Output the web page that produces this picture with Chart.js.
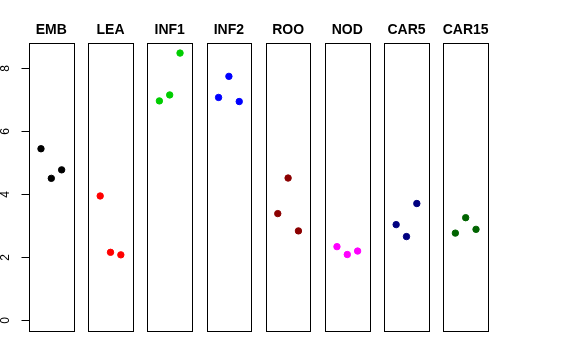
<!DOCTYPE html>
<html>
<head>
<meta charset="utf-8">
<script src="https://cdn.jsdelivr.net/npm/chart.js@4/dist/chart.umd.min.js"></script>
<style>
  html, body { margin: 0; padding: 0; background: #fff; }
  #wrap { width: 576px; height: 360px; }
</style>
</head>
<body>
<div id="wrap"><canvas id="chart" width="576" height="360"></canvas></div>
<script>
// panels and their three values (positions 1, 2, 3)
const groups = ['EMB', 'LEA', 'INF1', 'INF2', 'ROO', 'NOD', 'CAR5', 'CAR15'];
const colors = ['#000000', '#FF0000', '#00CD00', '#0000FF', '#8B0000', '#FF00FF', '#000080', '#006400'];
const values = [
    [5.45, 4.51, 4.78],
    [3.95, 2.16, 2.08],
    [6.97, 7.16, 8.49],
    [7.08, 7.75, 6.95],
    [3.39, 4.52, 2.84],
    [2.34, 2.09, 2.20],
    [3.04, 2.66, 3.71],
    [2.77, 3.26, 2.89]
];
const yTicks = [0, 2, 4, 6, 8];

// each panel has xlim 0..4 (plus 4%), panels laid side by side on one x scale
const stride = 5.73;
const half = 2.16;

const datasets = groups.map(function(g, k){
    return {
        label: g,
        data: values[k].map(function(v, i){ return {x: 2 + k*stride + (i - 1), y: v}; }),
        backgroundColor: colors[k],
        borderColor: colors[k],
        pointRadius: 3.2,
        pointHoverRadius: 3.2,
        showLine: false
    };
});

const panels = {
    id: 'panels',
    afterDatasetsDraw(chart){
        const ctx = chart.ctx;
        const xs = chart.scales.x, ys = chart.scales.y;
        const top = Math.round(ys.getPixelForValue(ys.max)) + 0.5;
        const bottom = Math.round(ys.getPixelForValue(ys.min)) + 0.5;
        ctx.save();
        ctx.strokeStyle = '#000';
        ctx.lineWidth = 1;
        groups.forEach(function(g, k){
            const c = 2 + k*stride;
            const l = Math.round(xs.getPixelForValue(c - half)) + 0.5;
            const r = Math.round(xs.getPixelForValue(c + half)) + 0.5;
            ctx.strokeRect(l, top, r - l, bottom - top);
            ctx.fillStyle = '#000';
            ctx.font = 'bold 14px "Liberation Sans", Arial, sans-serif';
            ctx.textAlign = 'center';
            ctx.textBaseline = 'alphabetic';
            ctx.fillText(g, xs.getPixelForValue(c), 34);
        });
        // left axis: ticks and labels written parallel to the axis
        const x0 = Math.round(xs.getPixelForValue(xs.min)) + 0.5;
        ctx.font = '12px "Liberation Sans", Arial, sans-serif';
        yTicks.forEach(function(t){
            const y = Math.round(ys.getPixelForValue(t)) + 0.5;
            ctx.beginPath();
            ctx.moveTo(x0 - 8, y);
            ctx.lineTo(x0, y);
            ctx.stroke();
            ctx.save();
            ctx.translate(12, y);
            ctx.rotate(-Math.PI / 2);
            ctx.textAlign = 'center';
            ctx.textBaseline = 'bottom';
            ctx.fillText(String(t), 0, 0);
            ctx.restore();
        });
        ctx.restore();
    }
};

new Chart(document.getElementById('chart'), {
    type: 'scatter',
    data: { datasets: datasets },
    options: {
        responsive: false,
        animation: false,
        events: [],
        layout: { padding: { left: 29, right: 88, top: 43, bottom: 29 } },
        plugins: { legend: { display: false }, tooltip: { enabled: false } },
        scales: {
            x: { type: 'linear', display: false, min: -0.16, max: 2 + 7*stride + half },
            y: { type: 'linear', display: false, min: -0.34, max: 8.81 }
        }
    },
    plugins: [panels]
});
</script>
</body>
</html>
